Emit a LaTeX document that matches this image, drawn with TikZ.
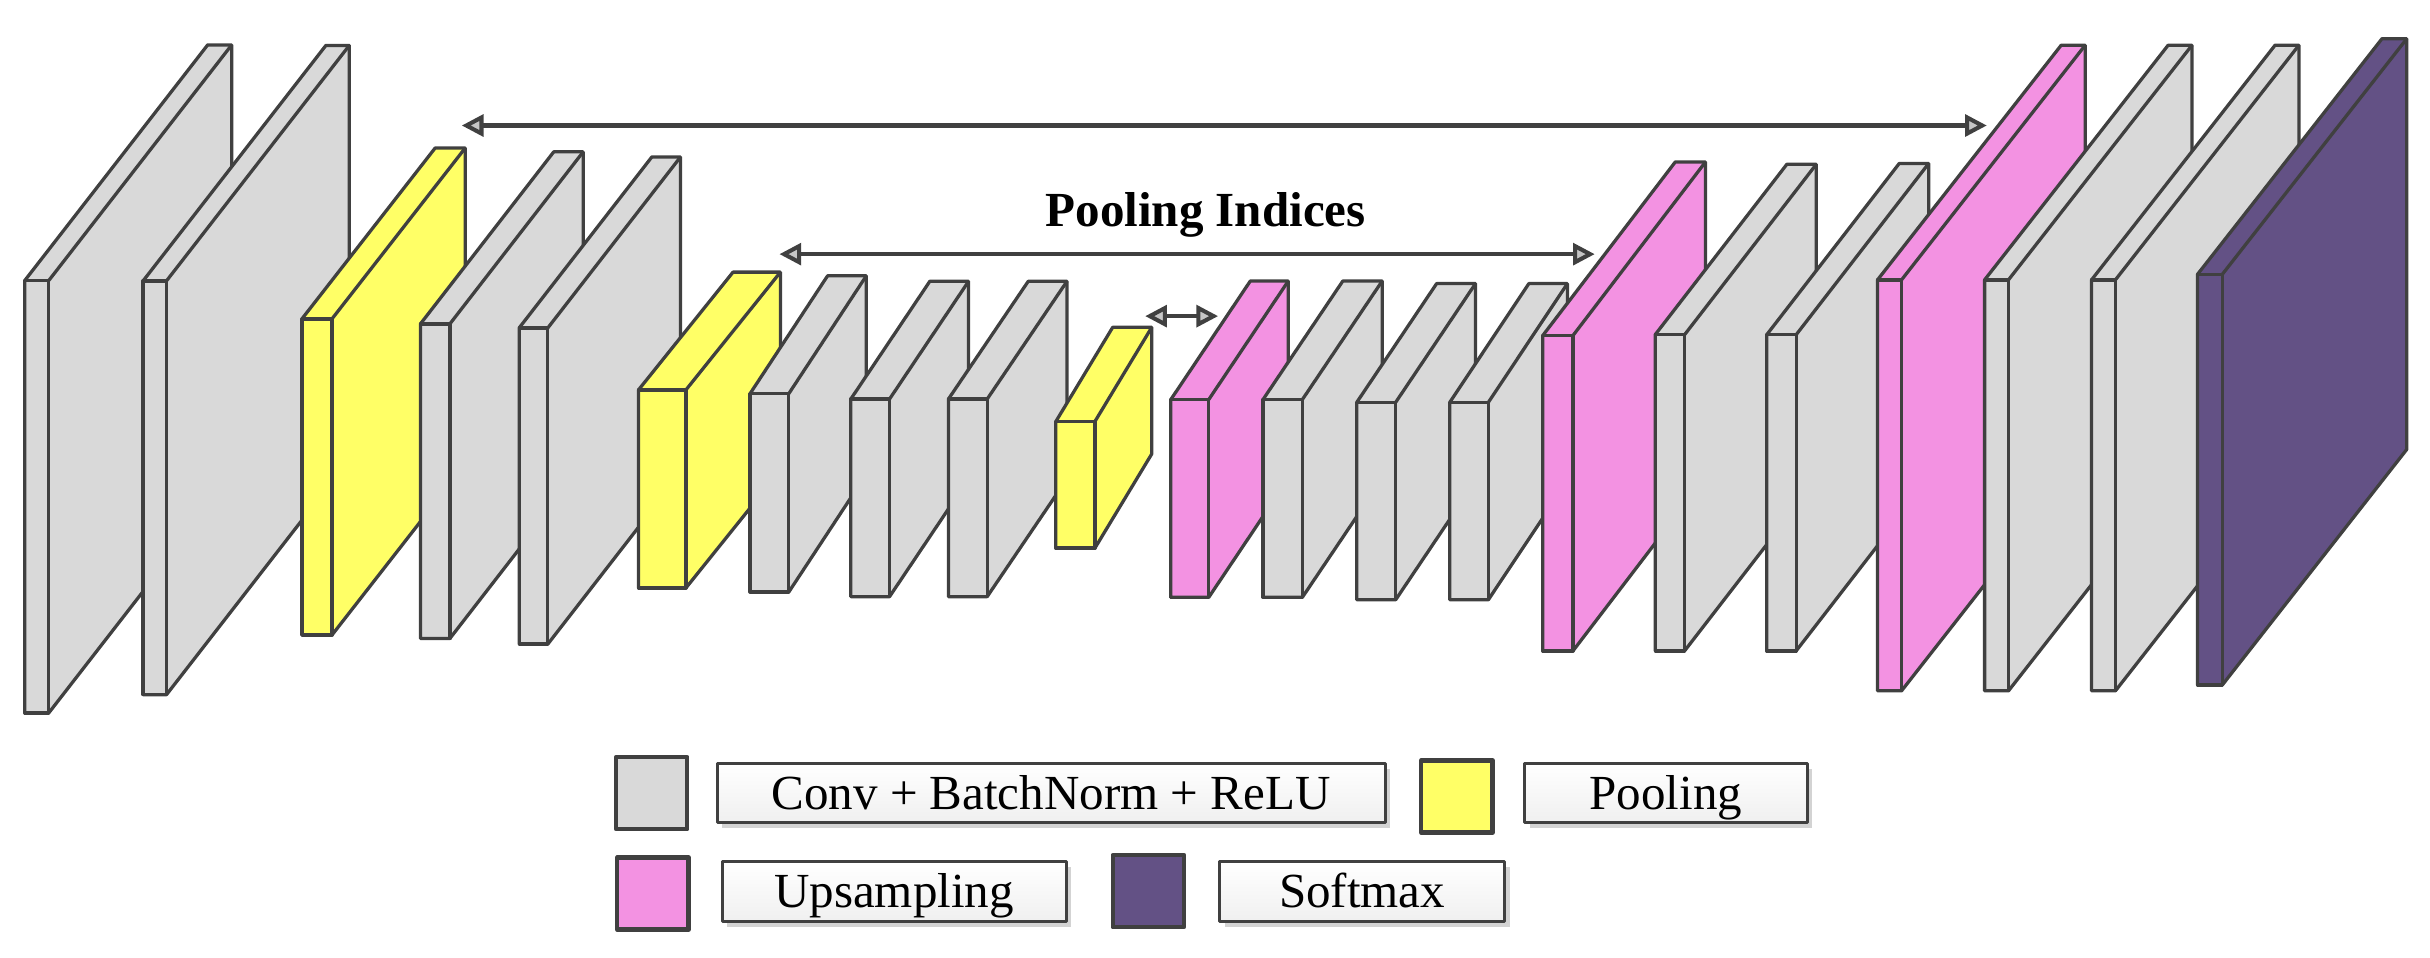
\documentclass[tikz,border=0pt]{standalone}
\usepackage{fontspec}
\setmainfont{Liberation Serif}
\usepackage{tikz}
\usetikzlibrary{arrows.meta,shadows}

\definecolor{convgray}{HTML}{D9D9D9}
\definecolor{poolyellow}{HTML}{FFFF66}
\definecolor{uppink}{HTML}{F392E2}
\definecolor{softpurple}{HTML}{635185}
\definecolor{edgegray}{HTML}{404040}

\begin{document}
\begin{tikzpicture}[x=0.1mm, y=-0.1mm, line join=round,
    slab/.style={draw=edgegray, line width=0.6pt},
    idx/.style={draw=edgegray, line width=0.75pt,
      {Triangle[length=1.4mm,width=1.4mm,fill=gray!45]}-{Triangle[length=1.4mm,width=1.4mm,fill=gray!45]}},
    swatch/.style={draw=edgegray, line width=0.8pt, minimum width=4.6mm, minimum height=4.65mm, inner sep=0pt},
    legbox/.style={draw=edgegray, line width=0.55pt, top color=white, bottom color=gray!12,
      drop shadow={shadow xshift=0.35mm, shadow yshift=-0.35mm, opacity=0.35},
      minimum height=3.83mm, inner sep=0pt, text height=6pt, text depth=0pt,
      font=\fontsize{9}{11}\selectfont}]
    \useasboundingbox (0,0) rectangle (1568,618);

    % Slabs: name/x/top/width/height/dx/dy/colour
    \foreach \nm/\px/\py/\sw/\sh/\dx/\dy/\col in {
      enca/16/181/15.5/279/118/-152/convgray,
      encb/92.3/181.3/15.1/267/118/-152/convgray,
      poola/194.8/205.8/19.4/204/86/-110.3/poolyellow,
      encc/271.3/209/19/203/86/-111/convgray,
      encd/335/211.6/18.5/204/85.6/-110.3/convgray,
      poolb/412/251.6/30.6/127.8/61/-76/poolyellow,
      ence/484/254/25/128/50/-76/convgray,
      encf/549/257.5/25/127.5/51/-76/convgray,
      encg/612/257.5/25/127.5/51.5/-76/convgray,
      poolc/681.3/272/25.2/81.7/36.7/-60.8/poolyellow,
      upa/755.5/257.8/24.5/127.6/51.3/-76.5/uppink,
      deca/815/257.8/25.4/127.6/51.5/-76.5/convgray,
      decb/875.5/259.6/25.1/127.4/51.5/-76.6/convgray,
      decc/935.5/259.6/24.9/127.4/51/-76.6/convgray,
      upb/995.5/216.5/19.5/203.5/85.5/-112/uppink,
      decd/1068/216/19/204/85/-110/convgray,
      dece/1140/216/19/204/85.5/-110.5/convgray,
      upc/1211.5/180.6/15.5/265.2/118.5/-151.4/uppink,
      decf/1280.6/180.6/15.4/265.2/118.4/-151.4/convgray,
      decg/1349.6/180.6/15.4/265.2/118.4/-151.4/convgray,
      soft/1418/177/16/265/119/-152/softpurple}
    {
      \coordinate (\nm) at (\px,\py);
      \filldraw[slab, fill=\col] (\nm) -- ++(\dx,\dy) -- ++(\sw,0) -- ++(0,\sh)
        -- (\px+\sw,\py+\sh) -- (\px,\py+\sh) -- cycle;
      \draw[slab] (\nm) rectangle ++(\sw,\sh);
      \draw[slab] (\px+\sw,\py) -- ++(\dx,\dy);
    }

    % Pooling indices
    \coordinate (idxal) at (298,81);
    \coordinate (idxar) at (1282,81);
    \coordinate (idxbl) at (503,164);
    \coordinate (idxbr) at (1029,164);
    \coordinate (idxcl) at (739,204);
    \coordinate (idxcr) at (786,204);
    \draw[idx] (idxal) -- (idxar);
    \draw[idx] (idxbl) -- (idxbr);
    \draw[idx] (idxcl) -- (idxcr);
    \node[font=\fontsize{9}{11}\selectfont\bfseries, anchor=base] (idxlabel) at (778,146) {Pooling Indices};

    % Legend
    \node[swatch, fill=convgray] (kconv) at (420.5,511.8) {};
    \node[legbox, minimum width=43.1mm] (lconv) at (678.2,511.6) {Conv + BatchNorm + ReLU};
    \node[swatch, fill=poolyellow] (kpool) at (940.1,514) {};
    \node[legbox, minimum width=18.2mm] (lpool) at (1075,511.6) {Pooling};
    \node[swatch, fill=uppink] (kup) at (421.3,576.6) {};
    \node[legbox, minimum width=22.2mm] (lup) at (576.9,575.2) {Upsampling};
    \node[swatch, fill=softpurple] (ksoft) at (741,575) {};
    \node[legbox, minimum width=18.4mm] (lsoft) at (878.9,575.2) {Softmax};
\end{tikzpicture}
\end{document}
